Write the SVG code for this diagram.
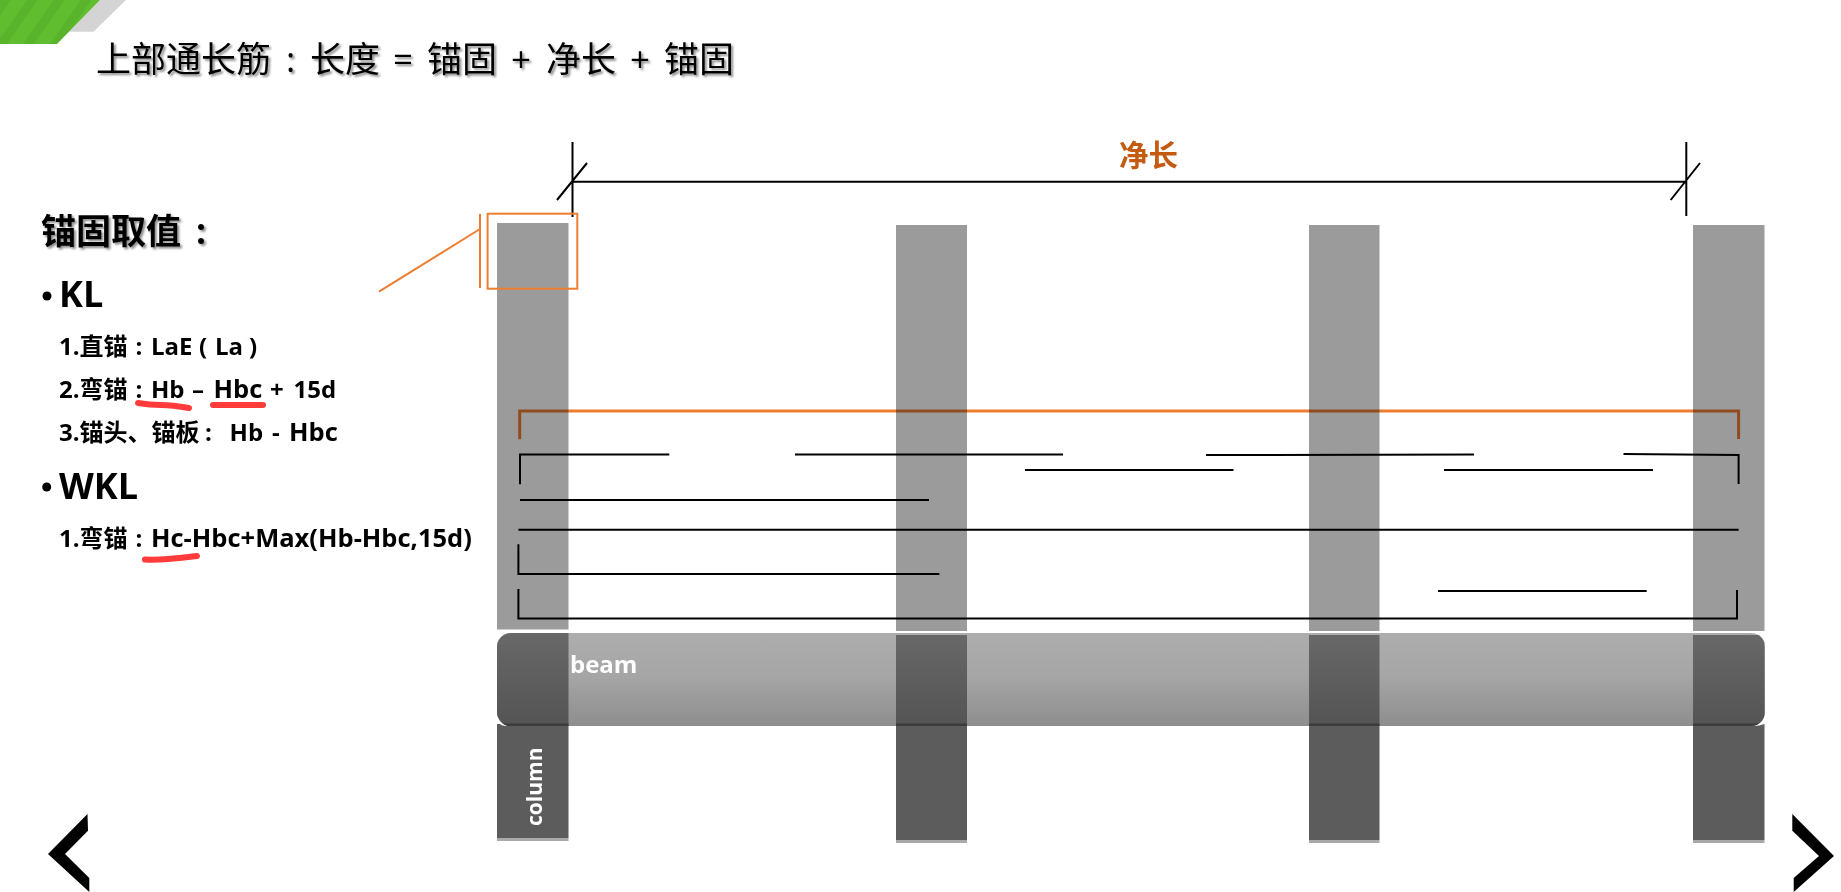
<svg xmlns="http://www.w3.org/2000/svg" width="1841" height="892" viewBox="0 0 1841 892">
<style>
text{font-family:"Open Sans","Noto Sans CJK SC",sans-serif;fill:#000}
.t{font-size:24px;font-weight:700}
.l{font-size:25.500px}
.b{font-size:36px;font-weight:700}
.w{fill:#fff;font-weight:700}
.k{fill:none;stroke:#000;stroke-width:2}
.o{fill:none;stroke:#ed7d31;stroke-width:2}
.r{fill:none;stroke:#ff3b3b;stroke-width:6;stroke-linecap:round;stroke-linejoin:round}
.c{fill:#9b9b9b}
.d{fill:#5c5c5c}
</style>
<defs>
<linearGradient id="bg" x1="0" y1="0" x2="0" y2="1"><stop offset="0" stop-color="#adadad"/><stop offset=".45" stop-color="#a6a6a6"/><stop offset="1" stop-color="#8e8e8e"/></linearGradient>
<linearGradient id="dg" x1="0" y1="0" x2="0" y2="1"><stop offset="0" stop-color="#686868"/><stop offset="1" stop-color="#545454"/></linearGradient>
<clipPath id="bc"><rect x="497" y="633" width="1268" height="93" rx="14"/></clipPath>
<filter id="s" x="-5%" y="-20%" width="110%" height="140%"><feDropShadow dx="2" dy="2" stdDeviation="1" flood-color="#000" flood-opacity=".45"/></filter>
<pattern id="st" width="22" height="22" patternUnits="userSpaceOnUse" patternTransform="rotate(35)"><rect width="22" height="22" fill="#60bd30"/><rect width="9" height="22" fill="#59b42c"/></pattern>
</defs>
<g id="corner">
<polygon points="100,0 126,0 93.500,31.700 69,31.700" fill="#d4d4d4"/>
<polygon points="0,0 100,0 57,44 0,44" fill="url(#st)"/>
</g>
<text id="title" y="72" font-size="35" filter="url(#s)"><tspan x="96">上部通长筋</tspan><tspan x="286">:</tspan><tspan x="310">长度</tspan><tspan x="393">=</tspan><tspan x="427">锚固</tspan><tspan x="511">+</tspan><tspan x="546">净长</tspan><tspan x="630">+</tspan><tspan x="664">锚固</tspan></text>
<g id="columns">
<rect class="c" x="497" y="223" width="71.500" height="406.500"/>
<rect class="c" x="896" y="225" width="71" height="406"/>
<rect class="c" x="1309" y="225" width="70.500" height="406"/>
<rect class="c" x="1693" y="225" width="71.500" height="406"/>
</g>
<g id="beam">
<rect x="497" y="633" width="1268" height="93" rx="14" fill="url(#bg)"/>
<g clip-path="url(#bc)">
<rect x="497" y="633" width="71.500" height="93" fill="url(#dg)"/>
<rect x="896" y="635" width="71" height="91" fill="url(#dg)"/>
<rect x="1309" y="635" width="70.500" height="91" fill="url(#dg)"/>
<rect x="1693" y="635" width="71.500" height="91" fill="url(#dg)"/>
<rect x="497" y="723.500" width="71.500" height="2.500" fill="#3c3c3c"/>
<rect x="896" y="723.500" width="71" height="2.500" fill="#3c3c3c"/>
<rect x="1309" y="723.500" width="70.500" height="2.500" fill="#3c3c3c"/>
<rect x="1693" y="723.500" width="71.500" height="2.500" fill="#3c3c3c"/>
</g>
<text class="w" x="570" y="673" font-size="24">beam</text>
</g>
<g id="lower-columns">
<rect x="497" y="838" width="71.500" height="3" fill="#a9a9a9"/>
<rect x="896" y="840" width="71" height="3" fill="#a9a9a9"/>
<rect x="1309" y="840" width="70.500" height="3" fill="#a9a9a9"/>
<rect x="1693" y="840" width="71.500" height="3" fill="#a9a9a9"/>
<path class="d" d="M497 724h3q2 2 8 2h60.500v112h-71.500z"/>
<rect class="d" x="896" y="726" width="71" height="114"/>
<rect class="d" x="1309" y="726" width="70.500" height="114"/>
<path class="d" d="M1693 726h60q7 0 11.500-2v116h-71.500z"/>
<text class="w" transform="translate(541.500 826) rotate(-90)" font-size="21">column</text>
</g>
<g id="connectors">
<path class="k" d="M572.500 142V217M557 200L587 163M572.500 181.700H1686.300M1686.300 142V216M1670.700 200L1700 163"/>
<path class="o" d="M379 291.700L480 229M480 214V288"/>
<rect class="o" x="487.600" y="213.700" width="89.700" height="75"/>
<path d="M519.700 439.300V411H1738.600V439" fill="none" stroke="#ed7d31" stroke-width="3" style="mix-blend-mode:multiply"/>
<path class="k" d="M520 484.300V454.500H669.300M795 454.500H1063M1025 470H1233.500M1206 455L1474 454.500M1444 470H1653M1623.500 454L1738.600 455V484M520 500H929M518.400 529.700H1738.600M518.400 544.300V574H939.400M1438 591H1646.700M518.400 589V618.500H1737V590"/>
</g>
<text id="cl" x="1119" y="166" font-size="29.500" font-weight="700" style="fill:#c55a11">净长</text>
<g id="anchor-text">
<text y="244" font-size="35" font-weight="700" filter="url(#s)"><tspan x="41">锚固取值</tspan><tspan x="196">:</tspan></text>
<circle cx="47" cy="296" r="4.500"/>
<text class="b" x="59" y="307">KL</text>
<text class="t" y="355"><tspan x="59">1.直锚</tspan><tspan x="135.500">:</tspan><tspan x="151">LaE</tspan><tspan x="199">(</tspan><tspan x="215">La</tspan><tspan x="249">)</tspan></text>
<text class="t" y="398"><tspan x="59">2.弯锚</tspan><tspan x="135.500">:</tspan><tspan x="151">Hb</tspan><tspan x="192">–</tspan><tspan x="213.500" class="l">Hbc</tspan><tspan x="270">+</tspan><tspan x="293.500">15d</tspan></text>
<text class="t" y="441"><tspan x="59">3.锚头、锚板</tspan><tspan x="205">:</tspan><tspan x="229.600">Hb</tspan><tspan x="272">-</tspan><tspan x="289" class="l">Hbc</tspan></text>
<circle cx="46.700" cy="487" r="4.500"/>
<text class="b" x="59" y="499">WKL</text>
<text class="t" y="547"><tspan x="59">1.弯锚</tspan><tspan x="135.500">:</tspan><tspan x="151" class="l">Hc-Hbc+Max(Hb-Hbc,15d)</tspan></text>
<path class="r" d="M138 403Q150 405 161 405T189 408M213 405H263M145 559.500Q155 560 168 559T197 556"/>
</g>
<g id="nav">
<polygon points="87.500,814 48,854 89.300,892 89.300,878 65,854 88,830.700"/>
<polygon points="1792.300,814 1834,856 1793.700,892 1793.700,878 1819,856 1792.300,830.700"/>
</g>
</svg>
